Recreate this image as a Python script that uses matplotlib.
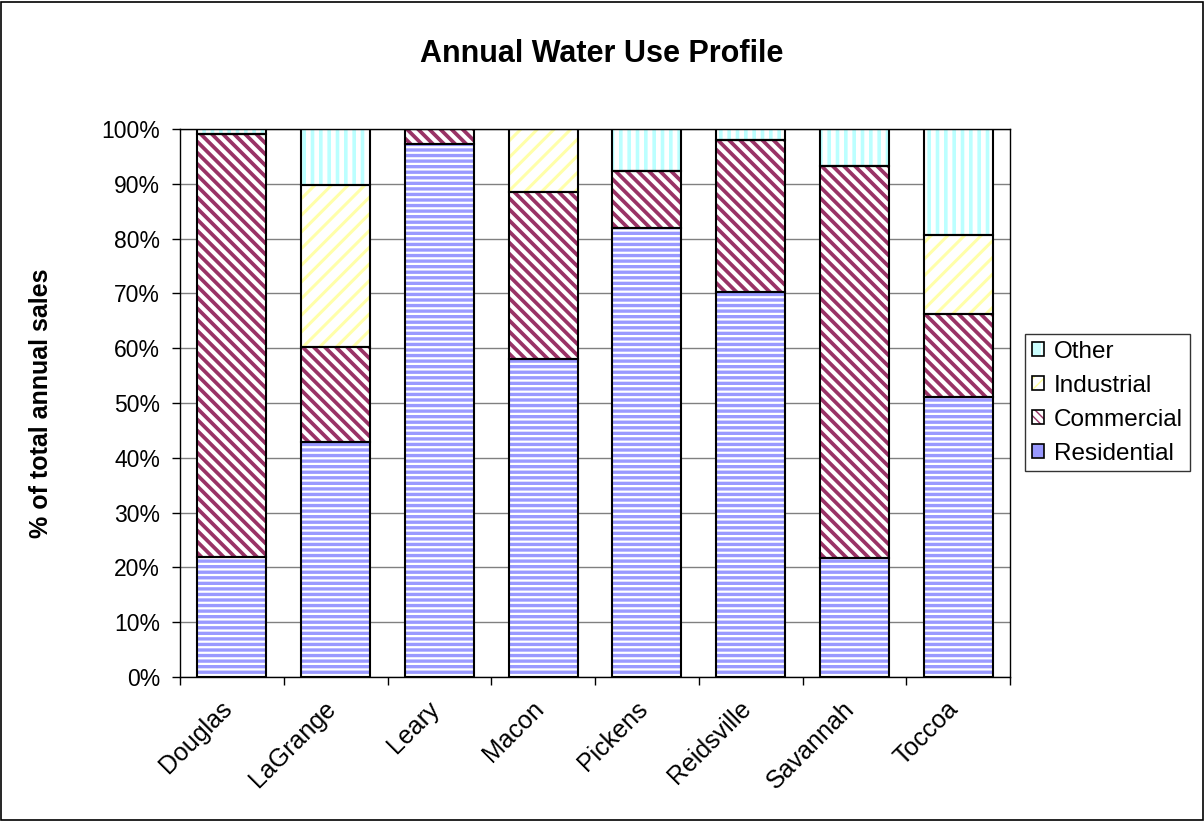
import numpy as np
import matplotlib
matplotlib.use('Agg')
import matplotlib.pyplot as plt
import matplotlib.transforms as mtransforms
from matplotlib.patches import Rectangle

plt.rcParams['font.family'] = ['Liberation Sans', 'DejaVu Sans']

# data (% of total annual sales)
cities = ['Douglas', 'LaGrange', 'Leary', 'Macon', 'Pickens', 'Reidsville', 'Savannah', 'Toccoa']
residential = [21.9, 42.9, 97.3, 58.0, 82.0, 70.2, 21.8, 51.1]
commercial = [77.2, 17.3, 2.7, 30.5, 10.3, 27.8, 71.4, 15.2]
industrial = [0.0, 29.6, 0.0, 11.5, 0.0, 0.0, 0.0, 14.4]
other = [0.9, 10.2, 0.0, 0.0, 7.7, 2.0, 6.8, 19.3]

# name, values, fill, hatch, hatch colour, hatch width, legend swatch (fill, hatch, colour)
series = [
    ('Residential', residential, '#9999FF', '---', 'white', 1.6, ('#9999FF', '-', 'white')),
    ('Commercial', commercial, 'white', '\\\\\\', '#993366', 2.7, ('white', '\\\\\\\\', '#993366')),
    ('Industrial', industrial, 'white', '//', '#FFFFAA', 2.2, ('white', '///', '#FFFF99')),
    ('Other', other, 'white', '||', '#BBFFFF', 2.6, ('#CCFFFF', '|', 'white')),
]

fig = plt.figure(figsize=(12.04, 8.21), dpi=100)
fig.patches.append(Rectangle((0.001, 0.001), 0.998, 0.997, transform=fig.transFigure,
                             fill=False, edgecolor='black', linewidth=1.2))
ax = fig.add_axes([0.1495, 0.1754, 0.6895, 0.6675])

x = np.arange(len(cities))
width = 0.665
bottom = np.zeros(len(cities))
handles = []
for name, vals, fc, hatch, hc, hlw, (lfc, lhatch, lhc) in series:
    vals = np.array(vals)
    with plt.rc_context({'hatch.linewidth': hlw, 'hatch.color': hc}):
        bars = ax.bar(x, vals, width, bottom=bottom, color=fc, hatch=hatch,
                      edgecolor=hc, linewidth=0, zorder=2)
        h = Rectangle((0, 0), 1, 1, facecolor=lfc, hatch=lhatch, edgecolor=lhc, linewidth=0)
        for p in list(bars) + [h]:
            if hasattr(p, 'set_hatch_linewidth'):
                p.set_hatch_linewidth(hlw)
    ax.bar(x, vals, width, bottom=bottom, fill=False, edgecolor='black',
           linewidth=1.5, zorder=3)
    outline = Rectangle((0, 0), 1, 1, fill=False, edgecolor='black', linewidth=1.2)
    handles.append(((h, outline), name))
    bottom += vals

ax.set_xlim(-0.5, len(cities) - 0.5)
ax.set_ylim(0, 100)
ax.set_yticks(np.arange(0, 101, 10))
ax.set_yticklabels([f'{v}%' for v in range(0, 101, 10)], fontsize=16.5)
ax.yaxis.grid(True, color='#808080', linewidth=1, zorder=0)
ax.set_axisbelow(True)

ax.set_xticks(x)
ax.set_xticklabels(cities, rotation=45, ha='right', rotation_mode='anchor', fontsize=18)
ax.tick_params(axis='x', length=0, pad=12)
shift = mtransforms.ScaledTranslation(-0.12, -0.03, fig.dpi_scale_trans)
for lab in ax.get_xticklabels():
    lab.set_transform(lab.get_transform() + shift)
ax.set_xticks(np.arange(-0.5, len(cities)), minor=True)
ax.tick_params(axis='x', which='minor', length=5.5, width=1, direction='out')
ax.tick_params(axis='y', length=5.8, width=1, direction='out', pad=8.5)
for s in ax.spines.values():
    s.set_linewidth(1)

ax.set_ylabel('% of total annual sales', fontsize=18, fontweight='bold')
ax.yaxis.set_label_coords(-0.153, 0.5)
fig.text(0.5, 0.934, 'Annual Water Use Profile', fontsize=22, fontweight='bold',
         ha='center', va='center')

# legend in reverse order
hs = [h for h, n in handles][::-1]
ns = [n for h, n in handles][::-1]
leg = fig.legend(hs, ns, loc='upper left', bbox_to_anchor=(0.8513, 0.5932),
                 fontsize=17.5, frameon=True, fancybox=False, edgecolor='black',
                 handlelength=0.5, handleheight=0.5, handletextpad=0.42,
                 labelspacing=0.49, borderpad=0.28, borderaxespad=0)
leg.get_frame().set_linewidth(1)

fig.savefig('out.png', dpi=100)
